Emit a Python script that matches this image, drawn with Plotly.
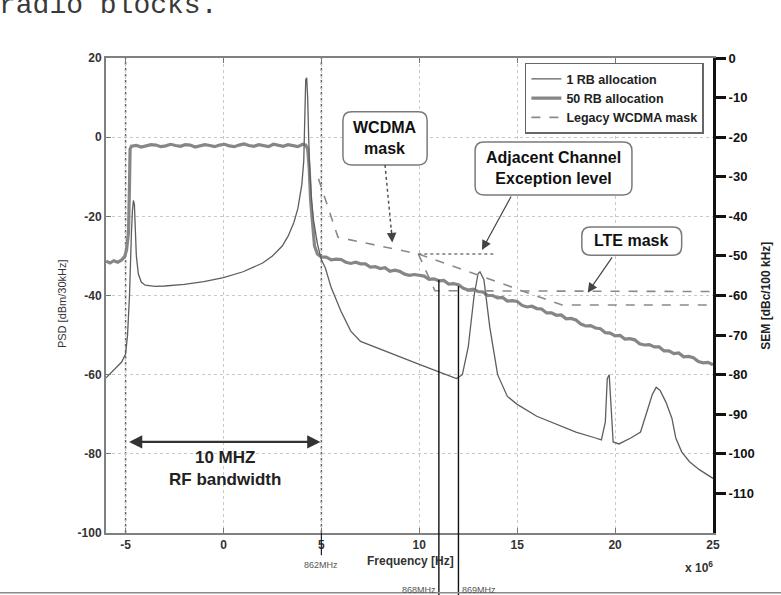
import plotly.graph_objects as go

# ---------------- data ----------------
# Frequency offset (MHz, axis shown as x 10^6 Hz) and PSD (dBm/30kHz)
freq_1rb = [-6.0, -5.6, -5.2, -5.0, -4.9, -4.8, -4.75, -4.7, -4.65, -4.6, -4.55,
            -4.5, -4.45, -4.35, -4.2, -4.0, -3.5, -3.0, -2.0, -1.0, 0.0, 1.0,
            1.5, 2.0, 2.5, 3.0, 3.3, 3.6, 3.8, 4.0, 4.1, 4.15, 4.2, 4.25, 4.3,
            4.35, 4.4, 4.5, 4.6, 4.8, 5.0, 5.2, 5.5, 6.0, 6.5, 7.0, 8.0, 9.0,
            10.0, 11.0, 11.9, 12.2, 12.5, 12.8, 13.0, 13.1, 13.3, 13.6, 14.0,
            14.5, 15.0, 16.0, 17.0, 18.0, 19.0, 19.3, 19.5, 19.6, 19.7, 19.8,
            19.9, 20.2, 20.8, 21.3, 21.6, 21.9, 22.1, 22.3, 22.6, 22.9, 23.1,
            23.4, 23.8, 24.3, 25.0]
psd_1rb = [-60.8, -58.8, -56.8, -54.8, -50.0, -40.0, -30.0, -24.0, -18.5, -16.0,
           -17.0, -24.0, -30.0, -34.5, -36.6, -37.4, -37.7, -37.6, -37.2, -36.5,
           -35.5, -34.0, -33.0, -31.8, -30.0, -27.5, -25.0, -21.5, -18.0, -12.0,
           -6.0, 2.0, 14.5, 15.0, 10.0, 0.0, -8.0, -16.0, -21.0, -27.0, -31.0,
           -33.0, -38.0, -44.0, -49.0, -51.6, -53.6, -55.5, -57.4, -59.3, -61.0,
           -60.0, -53.0, -40.0, -34.5, -34.0, -36.0, -48.0, -60.0, -65.5, -67.5,
           -70.5, -72.5, -74.5, -76.0, -76.5, -72.0, -61.0, -60.0, -70.0, -77.0,
           -77.5, -76.0, -74.5, -70.0, -65.0, -63.2, -64.0, -67.0, -71.0, -76.0,
           -79.5, -82.0, -84.0, -86.2]

freq_50rb = [-6.0, -5.8, -5.6, -5.4, -5.2, -5.05, -4.95, -4.85, -4.8, -4.77,
             -4.70, -4.45, -4.20, -3.95, -3.70, -3.45, -3.20, -2.95, -2.70, -2.45,
             -2.20, -1.95, -1.70, -1.45, -1.20, -0.95, -0.70, -0.45, -0.20, 0.05,
             0.30, 0.55, 0.80, 1.05, 1.30, 1.55, 1.80, 2.05, 2.30, 2.55, 2.80,
             3.05, 3.30, 3.55, 3.80, 4.05, 4.20, 4.30, 4.38, 4.45, 4.55, 4.65,
             4.80, 5.00, 5.25, 5.50, 5.75, 6.00, 6.25, 6.50, 6.75, 7.00, 7.25,
             7.50, 7.75, 8.00, 8.25, 8.50, 8.75, 9.00, 9.25, 9.50, 9.75, 10.00,
             10.25, 10.50, 10.75, 11.00, 11.25, 11.50, 11.75, 12.00, 12.25, 12.50,
             12.75, 13.00, 13.25, 13.50, 13.75, 14.00, 14.25, 14.50, 14.75, 15.00,
             15.25, 15.50, 15.75, 16.00, 16.25, 16.50, 16.75, 17.00, 17.25, 17.50,
             17.75, 18.00, 18.25, 18.50, 18.75, 19.00, 19.25, 19.50, 19.75, 20.00,
             20.25, 20.50, 20.75, 21.00, 21.25, 21.50, 21.75, 22.00, 22.25, 22.50,
             22.75, 23.00, 23.25, 23.50, 23.75, 24.00, 24.25, 24.50, 24.75, 25.00]
psd_50rb = [-31.3, -31.8, -31.2, -31.6, -31.0, -30.2, -28.5, -24.0, -12.0, -3.0,
            -2.3, -2.1, -2.5, -2.2, -1.9, -2.0, -2.4, -2.2, -1.8, -2.1,
            -2.3, -1.9, -2.0, -2.5, -2.2, -1.9, -2.1, -2.4, -2.0, -1.8,
            -2.2, -2.4, -2.0, -1.7, -2.1, -2.3, -1.9, -2.2, -2.4, -1.8, -2.0,
            -2.3, -1.9, -2.1, -2.4, -1.8, -2.0, -3.0, -8.0, -16.0, -23.0, -27.5,
            -29.5, -30.3, -30.3, -31.0, -30.8, -30.9, -31.6, -31.9, -31.6, -32.0, -32.0,
            -32.8, -32.7, -33.2, -33.0, -33.9, -33.6, -33.9, -34.6, -34.9, -34.7, -35.0,
            -35.1, -35.9, -35.8, -36.3, -36.2, -37.1, -37.0, -37.3, -38.2, -38.6,
            -38.4, -39.0, -39.1, -40.0, -40.0, -40.6, -40.5, -41.4, -41.3, -41.5,
            -42.5, -42.9, -42.7, -43.3, -43.4, -44.4, -44.4, -45.0, -44.9, -45.9,
            -45.8, -46.2, -47.2, -47.7, -47.6, -48.2, -48.4, -49.4, -49.5, -50.2,
            -50.1, -51.0, -50.9, -51.2, -52.2, -52.5, -52.4, -53.0, -53.0, -54.0,
            -54.0, -54.7, -54.5, -55.5, -55.4, -55.7, -56.7, -57.0, -56.9, -57.5]

# Emission masks on the SEM axis (dBc/100 kHz)
wcdma_mask_freq = [4.85, 5.85, 9.95, 17.3, 25.0]
wcdma_mask_dbc = [-30.5, -45.3, -49.5, -62.4, -62.4]
lte_mask_freq = [9.95, 10.8, 25.0]
lte_mask_dbc = [-49.5, -58.8, -59.0]
exception_freq = [9.95, 13.9]
exception_dbc = [-49.5, -49.5]

# Channel-edge markers below the frequency axis
edge_freq = [5, 11, 12]
edge_top_psd = [None, -36.0, -37.6]
edge_labels = ["862MHz", "868MHz", "869MHz"]

x_ticks = [-5, 0, 5, 10, 15, 20, 25]
psd_ticks = [20, 0, -20, -40, -60, -80, -100]
sem_ticks = [0, -10, -20, -30, -40, -50, -60, -70, -80, -90, -100, -110]

X_RANGE = [-6, 25]
PSD_RANGE = [-100, 20]
SEM_RANGE = [-120, 0]

FONT = "Liberation Sans"


def hyphen_labels(vals):
    return [str(v) for v in vals]


fig = go.Figure()

fig.add_trace(go.Scatter(
    x=freq_50rb, y=psd_50rb, mode="lines", name="50 RB allocation",
    line=dict(color="#868686", width=3.2), legendrank=2))
fig.add_trace(go.Scatter(
    x=freq_1rb, y=psd_1rb, mode="lines", name="1 RB allocation",
    line=dict(color="#5e5e5e", width=1.3), legendrank=1))
fig.add_trace(go.Scatter(
    x=wcdma_mask_freq, y=wcdma_mask_dbc, yaxis="y2", mode="lines",
    name="Legacy WCDMA mask", legendrank=3,
    line=dict(color="#8a8a8a", width=1.6, dash="dash")))
fig.add_trace(go.Scatter(
    x=lte_mask_freq, y=lte_mask_dbc, yaxis="y2", mode="lines", showlegend=False,
    line=dict(color="#8a8a8a", width=1.6, dash="dash")))
fig.add_trace(go.Scatter(
    x=exception_freq, y=exception_dbc, yaxis="y2", mode="lines", showlegend=False,
    line=dict(color="#777777", width=1.6, dash="dot")))


def psd_to_paper(v):
    return (v - PSD_RANGE[0]) / (PSD_RANGE[1] - PSD_RANGE[0])


shapes = []
# band edges of the 10 MHz channel
for xe in (-5, 5):
    shapes.append(dict(type="line", xref="x", yref="paper", x0=xe, x1=xe, y0=0, y1=1,
                       line=dict(color="#666666", width=1.5, dash="dot"), layer="below"))

# frequency markers reaching below the axis
for xf, top in zip(edge_freq, edge_top_psd):
    if top is None:
        shapes.append(dict(type="line", xref="x", yref="paper", x0=xf, x1=xf,
                           y0=0, y1=-0.047, line=dict(color="#222222", width=1.2)))
    else:
        shapes.append(dict(type="line", xref="x", yref="paper", x0=xf, x1=xf,
                           y0=psd_to_paper(top), y1=-0.14,
                           line=dict(color="#111111", width=1.4)))


def rounded_box(x0, x1, y0, y1, rx=0.45, ry=2.2):
    p = (f"M {x0 + rx},{y1} L {x1 - rx},{y1} Q {x1},{y1} {x1},{y1 - ry} "
         f"L {x1},{y0 + ry} Q {x1},{y0} {x1 - rx},{y0} L {x0 + rx},{y0} "
         f"Q {x0},{y0} {x0},{y0 + ry} L {x0},{y1 - ry} Q {x0},{y1} {x0 + rx},{y1} Z")
    return dict(type="path", xref="x", yref="y", path=p, fillcolor="white",
                line=dict(color="#7a7a7a", width=1.5), layer="above")


shapes.append(rounded_box(6.1, 10.4, -7.0, 6.4))
shapes.append(rounded_box(12.85, 20.86, -14.6, -1.2))
shapes.append(rounded_box(18.3, 23.4, -29.8, -22.7))

# dotted leader of the WCDMA callout
shapes.append(dict(type="line", xref="x", yref="y", x0=8.25, y0=-7.0, x1=8.58, y1=-24.0,
                   line=dict(color="#555555", width=1.5, dash="dot")))

# page rule at the very bottom
shapes.append(dict(type="line", xref="paper", yref="paper", x0=-0.18, x1=1.12,
                   y0=-0.126, y1=-0.126, line=dict(color="#8a8a8a", width=1.5)))

annotations = []
box_font = dict(family=FONT, size=16, color="#111111", weight="bold")
annotations.append(dict(x=8.25, y=-0.3, xref="x", yref="y", text="WCDMA<br>mask",
                        showarrow=False, font=box_font))
annotations.append(dict(x=16.85, y=-7.9, xref="x", yref="y",
                        text="Adjacent Channel<br>Exception level",
                        showarrow=False, font=box_font))
annotations.append(dict(x=20.86, y=-26.2, xref="x", yref="y", text="LTE mask",
                        showarrow=False, font=box_font))
annotations.append(dict(x=0.1, y=-83.6, xref="x", yref="y", text="10 MHZ<br>RF bandwidth",
                        showarrow=False, font=dict(family=FONT, size=17, color="#222222",
                                                   weight="bold")))

# callout arrows
arrow_common = dict(xref="x", yref="y", axref="x", ayref="y", text="", showarrow=True,
                    arrowhead=2, arrowsize=1.6, arrowwidth=1.2, arrowcolor="#444444")
annotations.append(dict(x=8.62, y=-26.6, ax=8.57, ay=-23.0, **arrow_common))
annotations.append(dict(x=13.2, y=-28.5, ax=14.73, ay=-14.6, **arrow_common))
annotations.append(dict(x=18.6, y=-39.3, ax=19.9, ay=-30.0, **arrow_common))
# double-headed bandwidth arrow
annotations.append(dict(x=4.95, y=-77, ax=-4.9, ay=-77, xref="x", yref="y",
                        axref="x", ayref="y", text="", showarrow=True,
                        arrowhead=2, startarrowhead=2, arrowside="end+start",
                        arrowsize=1.2, startarrowsize=1.2, arrowwidth=2.2,
                        arrowcolor="#333333"))

# frequency marker labels
label_font = dict(family=FONT, size=9, color="#555555")
annotations.append(dict(x=edge_freq[0], y=-0.067, xref="x", yref="paper",
                        text=edge_labels[0], showarrow=False, font=label_font,
                        xanchor="center", yanchor="middle"))
annotations.append(dict(x=edge_freq[1], y=-0.12, xref="x", yref="paper",
                        text=edge_labels[1], showarrow=False, font=label_font,
                        xanchor="right", xshift=-1, yanchor="middle"))
annotations.append(dict(x=edge_freq[2], y=-0.12, xref="x", yref="paper",
                        text=edge_labels[2], showarrow=False, font=label_font,
                        xanchor="left", xshift=2, yanchor="middle"))

# axis titles
annotations.append(dict(x=-0.0725, y=0.484, xref="paper", yref="paper",
                        xanchor="center", yanchor="middle",
                        text="PSD [dBm/30kHz]", textangle=-90, showarrow=False,
                        font=dict(family=FONT, size=11, color="#333333")))
annotations.append(dict(x=1.086, y=0.5, xref="paper", yref="paper",
                        xanchor="center", yanchor="middle",
                        text="SEM [dBc/100 kHz]", textangle=-90, showarrow=False,
                        font=dict(family=FONT, size=12, color="#222222", weight="bold")))
annotations.append(dict(x=0.502, y=-0.059, xref="paper", yref="paper",
                        xanchor="center", yanchor="middle",
                        text="Frequency [Hz]", showarrow=False,
                        font=dict(family=FONT, size=12, color="#333333", weight="bold")))
annotations.append(dict(x=0.977, y=-0.072, xref="paper", yref="paper",
                        xanchor="center", yanchor="middle",
                        text="x 10<sup>6</sup>", showarrow=False,
                        font=dict(family=FONT, size=12, color="#333333", weight="bold")))

# running text of the page above the figure (its top is trimmed by the page edge)
annotations.append(dict(x=-0.18, y=1.11, xref="paper", yref="paper", xanchor="left",
                        yanchor="middle", text="radio blocks.", showarrow=False,
                        font=dict(family="Liberation Mono", size=28, color="#3a3a3a")))

tick_font = dict(family=FONT, size=12, color="#333333", weight="bold")

fig.update_layout(
    width=781, height=595,
    margin=dict(l=106, r=68, t=58, b=62),
    paper_bgcolor="white", plot_bgcolor="white",
    showlegend=True,
    legend=dict(x=0.985, y=0.99, xanchor="right", yanchor="top",
                bgcolor="white", bordercolor="#666666", borderwidth=1.5,
                font=dict(family=FONT, size=12.5, color="#222222", weight="bold"),
                tracegroupgap=0, itemwidth=30),
    xaxis=dict(range=X_RANGE, tickvals=x_ticks, ticktext=hyphen_labels(x_ticks),
               ticks="inside", ticklen=5,
               tickcolor="#777777", showline=True, linecolor="#808080", linewidth=2,
               mirror="ticks", showgrid=True, gridcolor="#c8c8c8", griddash="dot",
               gridwidth=1, zeroline=False, tickfont=tick_font),
    yaxis=dict(range=PSD_RANGE, tickvals=psd_ticks, ticktext=hyphen_labels(psd_ticks),
               ticks="inside", ticklen=5,
               tickcolor="#777777", showline=True, linecolor="#808080", linewidth=2,
               showgrid=True, gridcolor="#c8c8c8", griddash="dot", gridwidth=1,
               zeroline=False, tickfont=tick_font),
    yaxis2=dict(range=SEM_RANGE, tickvals=sem_ticks, ticktext=hyphen_labels(sem_ticks),
                overlaying="y", side="right",
                ticks="outside", ticklen=10, tickwidth=3, tickcolor="#111111",
                showline=True, linecolor="#111111", linewidth=3, showgrid=False,
                zeroline=False,
                tickfont=dict(family=FONT, size=13, color="#111111", weight="bold")),
    shapes=shapes,
    annotations=annotations,
)

fig.write_html("out.html")
